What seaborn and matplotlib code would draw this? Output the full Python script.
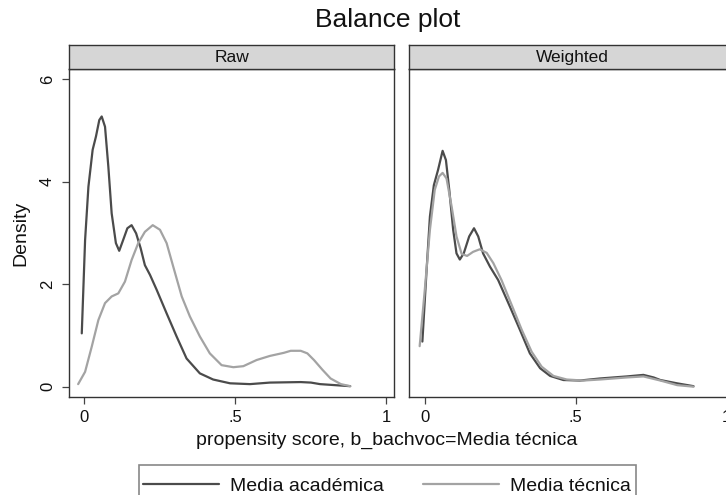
import numpy as np
import pandas as pd
import matplotlib
matplotlib.use("Agg")
import matplotlib.pyplot as plt
from matplotlib.patches import Rectangle
from matplotlib.lines import Line2D
import seaborn as sns

# ---------------- data ----------------
panels = ["Raw", "Weighted"]
groups = ["Media académica", "Media técnica"]

raw_acad_x = [-0.009, 0.002, 0.013, 0.027, 0.038, 0.049, 0.057, 0.068, 0.079, 0.090,
              0.104, 0.115, 0.128, 0.142, 0.156, 0.171, 0.186, 0.200, 0.217, 0.239,
              0.272, 0.305, 0.338, 0.382, 0.426, 0.482, 0.548, 0.614, 0.716, 0.750,
              0.780, 0.830, 0.880]
raw_acad_y = [1.04, 2.86, 3.90, 4.62, 4.88, 5.20, 5.27, 5.07, 4.29, 3.38,
              2.80, 2.65, 2.86, 3.09, 3.15, 2.99, 2.70, 2.37, 2.18, 1.89,
              1.43, 0.98, 0.55, 0.26, 0.14, 0.066, 0.05, 0.08, 0.09, 0.08,
              0.05, 0.03, 0.01]

raw_tec_x = [-0.021, 0.002, 0.024, 0.046, 0.068, 0.090, 0.112, 0.134, 0.156, 0.178,
             0.200, 0.226, 0.250, 0.272, 0.294, 0.322, 0.349, 0.382, 0.415, 0.454,
             0.493, 0.526, 0.570, 0.614, 0.660, 0.683, 0.716, 0.738, 0.760, 0.788,
             0.815, 0.849, 0.880]
raw_tec_y = [0.05, 0.29, 0.78, 1.30, 1.63, 1.76, 1.82, 2.05, 2.47, 2.80,
             3.02, 3.15, 3.06, 2.80, 2.34, 1.76, 1.37, 0.98, 0.65, 0.42,
             0.38, 0.40, 0.52, 0.60, 0.66, 0.70, 0.70, 0.65, 0.52, 0.33,
             0.16, 0.05, 0.01]

w_acad_x = [-0.008, 0.006, 0.017, 0.030, 0.044, 0.059, 0.070, 0.081, 0.094, 0.105,
            0.116, 0.129, 0.147, 0.163, 0.177, 0.193, 0.216, 0.243, 0.282, 0.315,
            0.348, 0.382, 0.415, 0.459, 0.514, 0.580, 0.669, 0.724, 0.758, 0.780,
            0.836, 0.890]
w_acad_y = [0.88, 2.28, 3.32, 3.93, 4.23, 4.60, 4.42, 3.84, 3.06, 2.60,
            2.48, 2.60, 2.93, 3.09, 2.93, 2.60, 2.34, 2.08, 1.56, 1.11,
            0.65, 0.36, 0.21, 0.13, 0.12, 0.16, 0.20, 0.23, 0.18, 0.13,
            0.065, 0.01]

w_tec_x = [-0.017, 0.000, 0.017, 0.033, 0.047, 0.059, 0.072, 0.089, 0.105, 0.122,
           0.140, 0.160, 0.182, 0.205, 0.227, 0.254, 0.288, 0.321, 0.354, 0.387,
           0.426, 0.470, 0.525, 0.580, 0.669, 0.724, 0.780, 0.836, 0.890]
w_tec_y = [0.79, 1.89, 3.06, 3.84, 4.10, 4.17, 4.06, 3.51, 2.93, 2.59,
           2.55, 2.63, 2.68, 2.61, 2.41, 2.08, 1.59, 1.11, 0.68, 0.39,
           0.21, 0.14, 0.12, 0.14, 0.18, 0.20, 0.12, 0.03, 0.00]

x_ticks = [0, 0.5, 1]
x_ticklabels = ["0", ".5", "1"]
y_ticks = [0, 2, 4, 6]
y_ticklabels = ["0", "2", "4", "6"]

frames = []
for panel, g, xs, ys in [
    ("Raw", groups[0], raw_acad_x, raw_acad_y),
    ("Raw", groups[1], raw_tec_x, raw_tec_y),
    ("Weighted", groups[0], w_acad_x, w_acad_y),
    ("Weighted", groups[1], w_tec_x, w_tec_y),
]:
    frames.append(pd.DataFrame({"x": xs, "y": ys, "group": g, "panel": panel}))
df = pd.concat(frames, ignore_index=True)

# ---------------- style ----------------
sns.set_theme(style="white")
plt.rcParams["font.family"] = ["Liberation Sans", "DejaVu Sans"]

palette = {groups[0]: "#4b4b4b", groups[1]: "#a3a3a3"}

W, H = 726, 495
fig = plt.figure(figsize=(W / 100, H / 100), dpi=100)


def fx(px):
    return px / W


def fy(py):
    return 1 - py / H


top, bottom = 69.3, 397.3
lefts = [69.0, 409.3]
width = 325.3

for i, panel in enumerate(panels):
    ax = fig.add_axes([fx(lefts[i]), fy(bottom), width / W, (bottom - top) / H])
    sub = df[df["panel"] == panel]
    sns.lineplot(data=sub, x="x", y="y", hue="group", palette=palette,
                 hue_order=groups, sort=False, estimator=None, linewidth=1.6,
                 legend=False, ax=ax)
    for ln in ax.lines:
        ln.set_solid_joinstyle("round")
    ax.set_xlim(-0.0513, 1.026)
    ax.set_ylim(-0.207, 6.19)
    ax.set_xticks(x_ticks)
    ax.set_xticklabels(x_ticklabels)
    ax.tick_params(axis="x", length=5, width=0.9, color="#444444", pad=4.5,
                   labelsize=12, labelcolor="#111111", bottom=True)
    ax.set_xlabel("")
    ax.set_ylabel("")
    if i == 0:
        ax.set_yticks(y_ticks)
        ax.set_yticklabels(y_ticklabels, rotation=90, va="center")
        ax.tick_params(axis="y", length=5, width=0.9, color="#444444", pad=5,
                       labelsize=12, labelcolor="#111111", left=True)
        ax.set_ylabel("Density", fontsize=14, color="#111111", labelpad=8)
    else:
        ax.set_yticks([])
    for sp in ax.spines.values():
        sp.set_color("#333333")
        sp.set_linewidth(1.0)
    ax.grid(False)

    # strip header
    sax = fig.add_axes([fx(lefts[i]), fy(top), width / W, (top - 45.0) / H])
    sax.set_facecolor("#d6d6d6")
    sax.set_xticks([])
    sax.set_yticks([])
    for sp in sax.spines.values():
        sp.set_color("#333333")
        sp.set_linewidth(1.0)
    sax.text(0.5, 0.5, panel, ha="center", va="center", fontsize=12.5,
             color="#111111", transform=sax.transAxes)

fig.text(fx(388), fy(20), "Balance plot", ha="center", va="center",
         fontsize=19, color="#111111")
fig.text(fx(387), fy(440), "propensity score, b_bachvoc=Media técnica",
         ha="center", va="center", fontsize=14, color="#111111")

# legend box
fig.patches.append(Rectangle((fx(139), fy(505)), (636 - 139) / W, (505 - 465) / H,
                             transform=fig.transFigure, facecolor="white",
                             edgecolor="#888888", linewidth=1.2, clip_on=False))
handles = [Line2D([], [], color=palette[g], linewidth=1.6) for g in groups]
fig.legend(handles, groups, loc="center", bbox_to_anchor=(fx(387), fy(486)),
           ncol=2, frameon=False, fontsize=14, handlelength=3.9,
           handletextpad=0.6, columnspacing=2.0, labelcolor="#111111")

fig.savefig("out.png", dpi=100)
